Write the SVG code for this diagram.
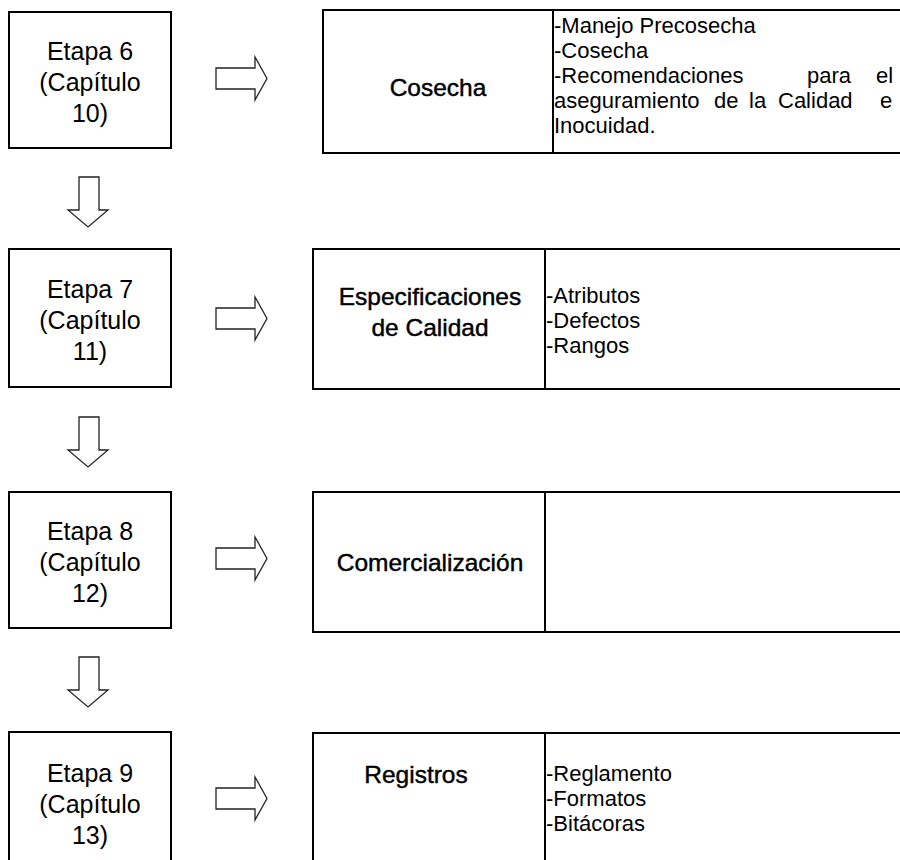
<svg xmlns="http://www.w3.org/2000/svg" width="900" height="860" viewBox="0 0 900 860">
<style>
.box{fill:#fff;stroke:#000;stroke-width:2}
.div{stroke:#000;stroke-width:2}
.arr{fill:#fff;stroke:#222;stroke-width:1.3;stroke-linejoin:miter}
.stage{font-family:"Liberation Sans",Arial,sans-serif;font-size:25px;fill:#000;text-anchor:middle}
.title{font-family:"Liberation Sans",Arial,sans-serif;font-size:24.5px;fill:#000;stroke:#000;stroke-width:0.45;text-anchor:middle}
.item{font-family:"Liberation Sans",Arial,sans-serif;font-size:22px;fill:#000}
</style>
<defs>
<path id="rarrow" d="M0,11 H39 V0 L51,21.5 L39,43 V32 H0 Z"/>
<path id="darrow" d="M11,0 H31 V33 H40 L20,50 L0,33 H11 Z"/>
</defs>
<rect width="900" height="860" fill="#fff"/>

<g id="connectors">
<use href="#rarrow" class="arr" x="216" y="57"/>
<use href="#rarrow" class="arr" x="216" y="297"/>
<use href="#rarrow" class="arr" x="216" y="537"/>
<use href="#rarrow" class="arr" x="216" y="777"/>
<use href="#darrow" class="arr" x="68" y="177"/>
<use href="#darrow" class="arr" x="68" y="417"/>
<use href="#darrow" class="arr" x="68" y="657"/>
</g>

<g id="etapa6">
<rect class="box" x="9" y="12" width="162" height="136"/>
<text class="stage" x="90" y="60">Etapa 6</text>
<text class="stage" x="90" y="91">(Capítulo</text>
<text class="stage" x="90" y="122">10)</text>
</g>
<g id="etapa7">
<rect class="box" x="9" y="249" width="162" height="138"/>
<text class="stage" x="90" y="298">Etapa 7</text>
<text class="stage" x="90" y="329">(Capítulo</text>
<text class="stage" x="90" y="360">11)</text>
</g>
<g id="etapa8">
<rect class="box" x="9" y="492" width="162" height="136"/>
<text class="stage" x="90" y="540">Etapa 8</text>
<text class="stage" x="90" y="571">(Capítulo</text>
<text class="stage" x="90" y="602">12)</text>
</g>
<g id="etapa9">
<rect class="box" x="9" y="732" width="162" height="150"/>
<text class="stage" x="90" y="782">Etapa 9</text>
<text class="stage" x="90" y="813">(Capítulo</text>
<text class="stage" x="90" y="844">13)</text>
</g>

<g id="cosecha">
<rect class="box" x="323" y="10" width="600" height="143"/>
<line class="div" x1="553" y1="10" x2="553" y2="153"/>
<text class="title" x="438" y="96">Cosecha</text>
<text class="item" x="554" y="33">-Manejo Precosecha</text>
<text class="item" x="554" y="58">-Cosecha</text>
<text class="item" y="83"><tspan x="554">-Recomendaciones</tspan><tspan x="807">para</tspan><tspan x="876">el</tspan></text>
<text class="item" y="108"><tspan x="554">aseguramiento</tspan><tspan x="714">de</tspan><tspan x="749">la</tspan><tspan x="778">Calidad</tspan><tspan x="880">e</tspan></text>
<text class="item" x="554" y="133">Inocuidad.</text>
</g>

<g id="especificaciones">
<rect class="box" x="313" y="249" width="610" height="140"/>
<line class="div" x1="545" y1="249" x2="545" y2="389"/>
<text class="title" x="430" y="305">Especificaciones</text>
<text class="title" x="430" y="336">de Calidad</text>
<text class="item" x="546" y="303">-Atributos</text>
<text class="item" x="546" y="328">-Defectos</text>
<text class="item" x="546" y="353">-Rangos</text>
</g>

<g id="comercializacion">
<rect class="box" x="313" y="492" width="610" height="140"/>
<line class="div" x1="545" y1="492" x2="545" y2="632"/>
<text class="title" x="430" y="571">Comercialización</text>
</g>

<g id="registros">
<rect class="box" x="313" y="733" width="610" height="150"/>
<line class="div" x1="545" y1="733" x2="545" y2="883"/>
<text class="title" x="416" y="783">Registros</text>
<text class="item" x="546" y="781">-Reglamento</text>
<text class="item" x="546" y="806">-Formatos</text>
<text class="item" x="546" y="831">-Bitácoras</text>
</g>
</svg>
